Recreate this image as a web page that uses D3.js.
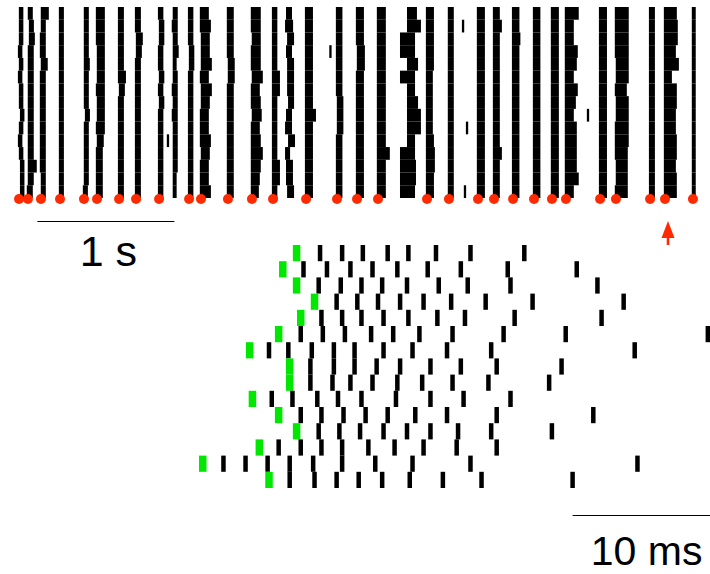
<!DOCTYPE html>
<html>
<head>
<meta charset="utf-8">
<script src="https://cdn.jsdelivr.net/npm/d3@7"></script>
<style>
  html, body { margin: 0; padding: 0; background: #fff; }
  svg { display: block; }
  text { font-family: "Liberation Sans", Arial, sans-serif; }
</style>
</head>
<body>
<div id="chart"></div>
<script>
// ---- top raster (15 trials), one entry per burst column ----
// burst onset, seconds
const burstT = [0.066, 0.131, 0.226, 0.365, 0.540, 0.635, 0.796, 0.920, 1.088, 1.189,
  1.307, 1.394, 1.591, 1.766, 1.920, 2.016, 2.161, 2.387, 2.533, 2.686,
  2.855, 3.044, 3.204, 3.416, 3.533, 3.672, 3.825, 3.956, 4.058, 4.307,
  4.423, 4.672, 4.781, 4.985];
// onsets marked with a red dot
const dotT = [0.066, 0.131, 0.226, 0.365, 0.540, 0.635, 0.796, 0.920, 1.088,
  1.307, 1.394, 1.591, 1.766, 1.920, 2.161, 2.387, 2.533, 2.686,
  3.044, 3.204, 3.416, 3.533, 3.672, 3.825, 3.956, 4.058, 4.307,
  4.423, 4.672, 4.781, 4.985];
// per trial delay of the first spike after onset (ms)
const burstLag = [
  [7,7,7,0,7,0,7,7,15,7,0,7,15,15,15],
  [7,15,15,7,7,7,7,7,7,7,7,7,7,7,0],
  [7,7,0,0,7,0,0,0,0,0,0,0,0,7,7],
  0,
  [7,7,7,7,7,7,7,7,15,7,7,7,7,7,0],
  [0,0,0,7,7,7,0,7,7,0,7,0,0,0,0],
  [0,0,0,0,0,0,7,0,0,0,0,0,0,0,0],
  [0,0,7,7,0,0,0,0,0,0,0,0,0,0,0],
  [0,7,7,0,0,7,0,7,0,0,0,0,0,0,0],
  [7,0,7,7,7,7,0,7,0,7,7,7,7,7,7],
  [0,0,0,7,7,0,0,0,0,0,0,0,0,0,0],
  [0,0,7,7,7,0,7,7,0,0,0,7,0,0,0],
  [0,0,0,0,7,7,0,0,0,0,0,0,0,0,0],
  [0,0,7,0,0,7,0,0,7,0,0,0,0,0,0],
  0,
  [7,0,15,7,15,15,15,22,7,0,22,0,7,7,15],
  0,
  [0,0,0,0,0,0,0,7,7,7,0,0,0,0,0],
  [0,0,0,7,7,0,0,0,0,0,0,0,0,0,0],
  0,
  [51,51,0,0,51,0,51,51,51,51,51,0,0,0,0],
  0, 0, 0, 0, 0, 0, 0, 0, 0,
  [0,0,0,0,7,7,0,7,7,0,0,0,7,7,0],
  0, 0, 0
];
// per trial burst duration, first to last spike (ms)
const burstLen = [
  16,
  [20,20,27,27,27,27,27,27,27,27,27,27,49,27,27],
  [42,20,27,27,34,27,27,27,27,27,27,27,27,20,20],
  20,
  [20,20,20,20,27,20,20,20,20,20,20,20,20,20,20],
  [49,49,49,42,42,42,49,42,42,49,34,34,34,34,34],
  [27,27,27,27,27,42,27,27,27,27,27,27,27,27,27],
  [27,27,34,27,27,27,27,27,27,27,27,27,27,27,27],
  23,
  [20,27,20,27,12,20,27,20,27,20,20,20,20,12,12],
  23,
  [49,64,49,49,64,49,64,49,49,49,64,49,49,49,64],
  34,
  [56,56,49,56,56,64,49,56,56,49,56,71,56,49,42],
  [23,23,23,23,23,42,42,23,23,23,23,23,42,42,23],
  [27,42,34,27,34,34,34,27,27,34,34,20,34,34,34],
  [42,42,42,42,42,42,42,42,64,42,42,42,42,42,42],
  31,
  42,
  [49,49,49,49,49,49,49,49,49,49,49,78,49,49,49],
  [56,85,93,93,64,93,42,64,85,85,42,93,100,100,93],
  [42,42,42,42,42,34,34,34,34,34,42,49,49,42,42],
  27,
  42,
  [34,49,34,34,34,34,34,34,34,34,34,49,34,34,34],
  [38,38,45,38,38,38,38,38,38,38,38,38,38,38,38],
  38,
  42,
  [85,49,49,78,71,49,78,64,49,71,71,71,71,85,49],
  42,
  [85,85,85,85,78,78,71,78,78,85,85,78,71,71,78],
  27,
  [78,85,85,71,93,42,78,78,71,71,78,78,71,78,78],
  12
];
// isolated spikes outside bursts
const strayT = [1.153, 2.339, 3.307, 3.336, 3.321, 4.219];
const strayRow = [10, 3, 1, 9, 14, 8];
const arrowT = 4.803;   // burst shown expanded below

// ---- expanded burst: spike times per trial (ms), first spike in green ----
const zoomSpikes = [
  [7.0, 8.7, 10.3, 11.8, 13.6, 15.1, 17.1, 19.6, 23.5],
  [6.0, 7.5, 9.2, 10.9, 12.5, 14.3, 16.5, 18.9, 22.3, 27.3],
  [7.0, 8.6, 10.2, 11.7, 13.2, 15.0, 17.3, 19.4, 22.5, 28.8],
  [8.3, 9.9, 11.4, 12.9, 14.5, 16.2, 18.2, 20.7, 24.1, 30.7],
  [7.3, 8.8, 10.3, 11.7, 13.3, 15.1, 17.2, 19.2, 22.8, 29.1],
  [5.7, 7.3, 8.9, 10.5, 12.4, 14.0, 15.9, 18.3, 22.0, 26.5, 36.8],
  [3.6, 5.0, 6.4, 8.1, 9.7, 11.2, 13.3, 15.4, 17.9, 21.1, 31.5],
  [6.5, 8.0, 9.7, 11.2, 12.8, 14.5, 16.7, 18.9, 21.5, 26.2],
  [6.5, 8.0, 9.6, 10.9, 12.5, 14.3, 16.1, 18.3, 20.9, 25.3],
  [3.8, 5.2, 6.7, 8.5, 10.0, 11.7, 14.2, 16.7, 19.1, 22.5],
  [5.7, 7.3, 8.8, 10.4, 12.0, 13.6, 15.6, 17.9, 21.5, 28.5],
  [7.0, 8.6, 10.1, 11.6, 13.3, 15.0, 16.7, 18.7, 21.1, 25.5],
  [4.3, 5.7, 7.3, 8.8, 10.3, 12.2, 14.1, 16.2, 18.6, 21.5],
  [0.2, 1.7, 3.3, 4.9, 6.5, 8.2, 10.3, 12.7, 15.4, 19.6, 31.7],
  [5.0, 6.5, 8.3, 9.9, 11.5, 13.2, 15.2, 17.6, 20.4, 27.0]
];

const topBar = [0.2, 1.2];   // 1 s
const zoomBar = [27, 37];    // 10 ms

const W = 710, H = 574;
const red = "#ff2a00", green = "#00e800";

const svg = d3.select("#chart").append("svg")
  .attr("width", W).attr("height", H);

const xTop = d3.scaleLinear().domain([0, 5]).range([10, 695]);
const yTop = d3.scaleBand().domain(d3.range(15)).range([7, 198]);
const xZoom = d3.scaleLinear().domain([0, 10]).range([200, 338]);
const yZoom = d3.scaleBand().domain(d3.range(15)).range([245, 488]);

const tw = 2.3;
const pick = (v, r) => Array.isArray(v) ? v[r] : v;

// top raster
const cells = [];
burstT.forEach((t, c) => {
  d3.range(15).forEach(r => {
    const a = t + pick(burstLag[c], r) / 1000;
    cells.push({ a: a, b: a + pick(burstLen[c], r) / 1000, r: r });
  });
});
strayT.forEach((t, i) => cells.push({ a: t, b: t, r: strayRow[i] }));

svg.append("g").selectAll("rect").data(cells).join("rect")
  .attr("x", d => xTop(d.a) - tw / 2)
  .attr("width", d => xTop(d.b) - xTop(d.a) + tw)
  .attr("y", d => yTop(d.r))
  .attr("height", yTop.bandwidth())
  .attr("fill", "#000");

svg.append("g").selectAll("circle").data(dotT).join("circle")
  .attr("cx", d => xTop(d)).attr("cy", 199).attr("r", 5)
  .attr("fill", red);

// 1 s bar
svg.append("line")
  .attr("x1", xTop(topBar[0])).attr("x2", xTop(topBar[1]))
  .attr("y1", 221.5).attr("y2", 221.5)
  .attr("stroke", "#000").attr("stroke-width", 1);
svg.append("text")
  .attr("x", xTop((topBar[0] + topBar[1]) / 2) + 2.5).attr("y", 266)
  .attr("text-anchor", "middle").attr("font-size", 43)
  .text("1 s");

// arrow
const ax = xTop(arrowT);
svg.append("path")
  .attr("d", `M${ax},221 L${ax + 6.5},238 L${ax + 1.3},238 L${ax + 1.3},245 L${ax - 1.3},245 L${ax - 1.3},238 L${ax - 6.5},238 Z`)
  .attr("fill", red);

// expanded burst
const spikes = [];
zoomSpikes.forEach((row, r) => row.forEach((s, i) => spikes.push({ s: s, r: r, first: i === 0 })));
svg.append("g").selectAll("rect").data(spikes).join("rect")
  .attr("x", d => xZoom(d.s) - (d.first ? 3.75 : 2.25))
  .attr("width", d => d.first ? 7.5 : 4.5)
  .attr("y", d => yZoom(d.r))
  .attr("height", yZoom.bandwidth())
  .attr("fill", d => d.first ? green : "#000");

// 10 ms bar
svg.append("line")
  .attr("x1", xZoom(zoomBar[0])).attr("x2", xZoom(zoomBar[1]))
  .attr("y1", 515.5).attr("y2", 515.5)
  .attr("stroke", "#000").attr("stroke-width", 1);
svg.append("text")
  .attr("x", xZoom((zoomBar[0] + zoomBar[1]) / 2) + 5).attr("y", 565)
  .attr("text-anchor", "middle").attr("font-size", 41)
  .text("10 ms");
</script>
</body>
</html>
